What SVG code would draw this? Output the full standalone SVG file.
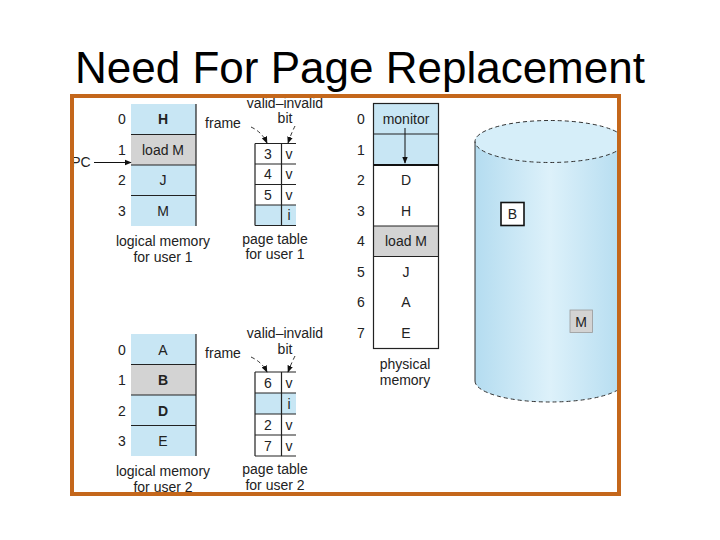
<svg xmlns="http://www.w3.org/2000/svg" width="720" height="540" viewBox="0 0 720 540">
<defs>
<style>
text{font-family:"Liberation Sans",Arial,sans-serif;fill:#222;}
.t{font-size:14px;text-anchor:middle;}
.title{font-size:44px;text-anchor:middle;fill:#000;}
.blue{fill:#C8E6F4;}
.gray{fill:#D3D3D3;}
.ln{stroke:#222;stroke-width:1.2;fill:none;}
.dash{stroke:#333;stroke-width:1;fill:none;stroke-dasharray:4 3;}
</style>
<marker id="ah" viewBox="0 0 10 10" refX="9" refY="5" markerWidth="7" markerHeight="7" orient="auto" markerUnits="userSpaceOnUse">
<path d="M0,1 L10,5 L0,9 Z" fill="#111"/>
</marker>
<linearGradient id="cyl" x1="475" y1="0" x2="625" y2="0" gradientUnits="userSpaceOnUse">
<stop offset="0" stop-color="#B4DCF0"/>
<stop offset="0.5" stop-color="#DDF1FA"/>
<stop offset="1" stop-color="#B4DCF0"/>
</linearGradient>
<clipPath id="fr"><rect x="72" y="96" width="547" height="398"/></clipPath>
</defs>
<rect width="720" height="540" fill="#fff"/>
<text class="title" x="360" y="83">Need For Page Replacement</text>

<g id="disk" clip-path="url(#fr)">
<path d="M475,141.5 L475,381 A75,21 0 0 0 625,381 L625,141.5 A75,21 0 0 0 475,141.5 Z" fill="url(#cyl)"/>
<ellipse cx="550" cy="141.5" rx="75" ry="21" class="dash" style="fill:#D6EEF9"/>
<path class="dash" d="M475,381 A75,21 0 0 0 625,381"/>
<line x1="475" y1="141.5" x2="475" y2="381" stroke="#333" stroke-width="1"/>
<g id="diskB"><rect x="501" y="202.5" width="23" height="23" fill="#fff" stroke="#111" stroke-width="1.6"/><text class="t" x="512.5" y="219">B</text></g>
<g id="diskM"><rect x="570" y="310" width="22.5" height="22.5" fill="#D3D3D3" stroke="#999" stroke-width="0.8"/><text class="t" x="581" y="326.5">M</text></g>
</g>

<g id="logical1">
<rect class="blue" x="131" y="104" width="65" height="122"/>
<rect class="gray" x="131" y="134.5" width="65" height="30.5"/>
<path class="ln" d="M196,104 V226 M131,134.5 H196 M131,165 H196 M131,195.5 H196"/>
<text class="t" x="122" y="124">0</text><text class="t" x="163" y="124" style="font-weight:bold">H</text>
<text class="t" x="122" y="155">1</text><text class="t" x="163" y="155">load M</text>
<text class="t" x="122" y="185">2</text><text class="t" x="163" y="185">J</text>
<text class="t" x="122" y="216">3</text><text class="t" x="163" y="216">M</text>
<text class="t" x="163" y="246">logical memory</text>
<text class="t" x="163" y="262">for user 1</text>
<text class="t" x="81" y="167">PC</text>
</g>

<g id="pagetable1">
<rect class="blue" x="255" y="205" width="41" height="20.5"/>
<path class="ln" d="M255,143.5 V225.5 M281.5,143.5 V225.5 M255,143.5 H296 M255,164 H296 M255,184.5 H296 M255,205 H296 M255,225.5 H296"/>
<text class="t" x="268" y="158.5">3</text><text class="t" x="289" y="158.5">v</text>
<text class="t" x="268" y="179">4</text><text class="t" x="289" y="179">v</text>
<text class="t" x="268" y="199.5">5</text><text class="t" x="289" y="199.5">v</text>
<text class="t" x="289" y="220">i</text>
<text class="t" x="223" y="128">frame</text>
<text class="t" x="285" y="108">valid–invalid</text>
<text class="t" x="285" y="123">bit</text>
<text class="t" x="275" y="244">page table</text>
<text class="t" x="275" y="259">for user 1</text>
</g>

<g id="logical2">
<rect class="blue" x="131" y="334" width="65" height="122"/>
<rect class="gray" x="131" y="364.5" width="65" height="30.5"/>
<path class="ln" d="M196,334 V456 M131,364.5 H196 M131,395 H196 M131,425.5 H196"/>
<text class="t" x="122" y="355">0</text><text class="t" x="163" y="355">A</text>
<text class="t" x="122" y="385">1</text><text class="t" x="163" y="385" style="font-weight:bold">B</text>
<text class="t" x="122" y="416">2</text><text class="t" x="163" y="416" style="font-weight:bold">D</text>
<text class="t" x="122" y="446">3</text><text class="t" x="163" y="446">E</text>
<text class="t" x="163" y="476">logical memory</text>
<text class="t" x="163" y="492">for user 2</text>
</g>

<g id="pagetable2">
<rect class="blue" x="255" y="393" width="41" height="21"/>
<path class="ln" d="M255,372 V456 M281.5,372 V456 M255,372 H296 M255,393 H296 M255,414 H296 M255,435 H296 M255,456 H296"/>
<text class="t" x="268" y="388">6</text><text class="t" x="289" y="388">v</text>
<text class="t" x="289" y="409">i</text>
<text class="t" x="268" y="430">2</text><text class="t" x="289" y="430">v</text>
<text class="t" x="268" y="451">7</text><text class="t" x="289" y="451">v</text>
<text class="t" x="223" y="358">frame</text>
<text class="t" x="285" y="338">valid–invalid</text>
<text class="t" x="285" y="354">bit</text>
<text class="t" x="275" y="474">page table</text>
<text class="t" x="275" y="490">for user 2</text>
</g>

<g id="physical">
<rect class="blue" x="373.5" y="103.5" width="65" height="61.5"/>
<rect class="gray" x="373.5" y="226" width="65" height="30.5"/>
<rect class="ln" x="373.5" y="103.5" width="65" height="245"/>
<path class="ln" d="M373.5,134 H438.5 M373.5,226 H438.5 M373.5,256.5 H438.5"/>
<line x1="373.5" y1="165" x2="438.5" y2="165" stroke="#111" stroke-width="2.2"/>
<text class="t" x="361" y="124">0</text><text class="t" x="406" y="124">monitor</text>
<text class="t" x="361" y="155">1</text>
<text class="t" x="361" y="185">2</text><text class="t" x="406" y="185">D</text>
<text class="t" x="361" y="216">3</text><text class="t" x="406" y="216">H</text>
<text class="t" x="361" y="246">4</text><text class="t" x="406" y="246">load M</text>
<text class="t" x="361" y="277">5</text><text class="t" x="406" y="277">J</text>
<text class="t" x="361" y="307">6</text><text class="t" x="406" y="307">A</text>
<text class="t" x="361" y="338">7</text><text class="t" x="406" y="338">E</text>
<text class="t" x="405" y="369">physical</text>
<text class="t" x="405" y="385">memory</text>
</g>

<g id="connectors">
<line x1="94" y1="162.5" x2="131" y2="162.5" stroke="#111" stroke-width="1" marker-end="url(#ah)"/>
<line x1="405" y1="128" x2="405" y2="163" stroke="#111" stroke-width="1" marker-end="url(#ah)"/>
<path class="dash" d="M251,127 Q262,132 267,143" marker-end="url(#ah)"/>
<path class="dash" d="M295,126 Q291,134 288,143" marker-end="url(#ah)"/>
<path class="dash" d="M251,357 Q262,362 267,372" marker-end="url(#ah)"/>
<path class="dash" d="M295,356 Q291,364 288,372" marker-end="url(#ah)"/>
</g>

<rect id="frame" x="72" y="96" width="547" height="398" fill="none" stroke="#C4671B" stroke-width="4"/>
</svg>
